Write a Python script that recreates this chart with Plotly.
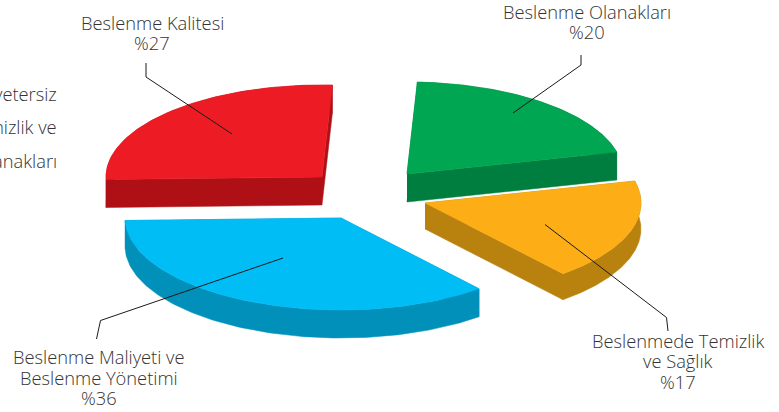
import numpy as np
import plotly.graph_objects as go

# ---- data ----
categories = ["Beslenme Olanakları", "Beslenme Kalitesi",
              "Beslenme Maliyeti ve<br>Beslenme Yönetimi",
              "Beslenmede Temizlik<br>ve Sağlık"]
percent_labels = [20, 27, 36, 17]          # printed percentages
drawn_shares = [20.4, 26.2, 35.6, 17.8]    # angular shares as actually drawn in the picture
cut_off_lines = ["yetersiz", "Temizlik ve", "Olanakları"]

# ---- styles / layout ----
top_colors = ["#00A651", "#ED1C24", "#00BDF5", "#FDAE17"]
side_colors = ["#007E3F", "#AF1016", "#0090BA", "#B9820E"]
apexes = [(407, 174), (322, 177), (341, 218), (425, 203)]
depths = [28, 28, 28, 26]
RX, RY = 216, 92
START = 13.8
FONT = dict(family="Open Sans, Noto Sans, sans-serif", size=18.3, color="#333333", weight=300)
label_pos = [(587, 11), (152, 22), (99, 356.5), (678, 340)]   # centre of first text line
LINE_STEP = 20.7
leaders = [([581, 581, 513], [55, 65, 113]),
           ([146, 146, 232], [63, 77, 134]),
           ([96.5, 100.5, 283], [339, 320.5, 258]),
           ([668, 666.5, 545], [331, 317.5, 224.5])]
cut_off_y = [93, 126, 160]

fig = go.Figure()

def poly(xs, ys, color, name):
    fig.add_trace(go.Scatter(x=xs, y=ys, mode="lines", fill="toself", fillcolor=color,
                             line=dict(color=color, width=0.5), name=name,
                             hoverinfo="name", showlegend=False))

start = START
for i, share in enumerate(drawn_shares):
    end = start + share * 3.6
    t = np.radians(np.linspace(start, end, 120))
    ax, ay = apexes[i]
    d = depths[i]
    rx = ax + RX * np.cos(t)
    ry = ay - RY * np.sin(t)
    name = categories[i].replace("<br>", " ") + f" %{percent_labels[i]}"
    # extruded side: both cut faces and the outer rim
    poly([ax, rx[0], rx[0], ax], [ay, ry[0], ry[0] + d, ay + d], side_colors[i], name)
    poly([ax, rx[-1], rx[-1], ax], [ay, ry[-1], ry[-1] + d, ay + d], side_colors[i], name)
    poly(np.r_[rx, rx[::-1]], np.r_[ry, ry[::-1] + d], side_colors[i], name)
    # top face
    poly(np.r_[ax, rx, ax], np.r_[ay, ry, ay], top_colors[i], name)
    start = end

for lx, ly in leaders:
    fig.add_trace(go.Scatter(x=lx, y=ly, mode="lines", line=dict(color="#1A1A1A", width=1),
                             hoverinfo="skip", showlegend=False))

for cat, pct, (x, y) in zip(categories, percent_labels, label_pos):
    for k, line in enumerate(cat.split("<br>") + [f"%{pct}"]):
        fig.add_annotation(x=x, y=y + k * LINE_STEP, text=line, showarrow=False, font=FONT,
                           xanchor="center", yanchor="middle", align="center")

for txt, y in zip(cut_off_lines, cut_off_y):
    fig.add_annotation(x=59, y=y, text=txt, showarrow=False, font=FONT,
                       xanchor="right", yanchor="middle", align="right")

fig.update_layout(width=779, height=412, margin=dict(l=0, r=0, t=0, b=0),
                  paper_bgcolor="white", plot_bgcolor="white", showlegend=False,
                  xaxis=dict(range=[0, 779], visible=False, fixedrange=True),
                  yaxis=dict(range=[412, 0], visible=False, fixedrange=True))
fig.write_html("out.html", config=dict(displayModeBar=False),
               post_script="document.body.style.margin='0';document.documentElement.style.overflow='hidden';")
